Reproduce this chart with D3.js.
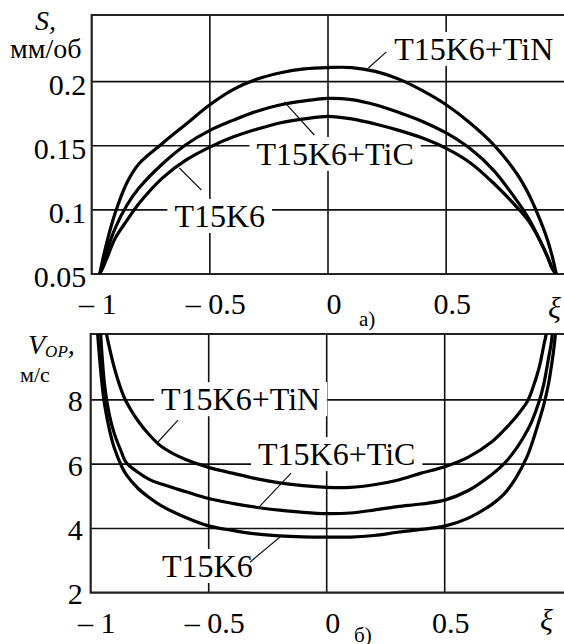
<!DOCTYPE html>
<html>
<head>
<meta charset="utf-8">
<script src="https://cdn.jsdelivr.net/npm/d3@7"></script>
</head>
<body style="margin:0; background:#fff">
<script>
// common x axis (relative position xi)
var xTicks = [-1, -0.5, 0, 0.5]
var xLabels = ["\u2013 1", "\u2013 0.5", "0", "0.5"]

// a) feed S, mm/rev
var xiA = [-0.966, -0.95, -0.93, -0.9, -0.85, -0.8, -0.7, -0.6, -0.5, -0.4, -0.3, -0.2, -0.1, 0,
           0.1, 0.2, 0.3, 0.4, 0.5, 0.6, 0.7, 0.8, 0.85, 0.9, 0.93, 0.95, 0.966]
var sTiN   = [0.05, 0.064, 0.079, 0.098, 0.1215, 0.136, 0.152, 0.167, 0.182, 0.194, 0.202, 0.207, 0.210, 0.211,
              0.211, 0.208, 0.202, 0.193, 0.182, 0.168, 0.151, 0.128, 0.112, 0.091, 0.076, 0.063, 0.05]
var sTiC   = [0.05, 0.059, 0.071, 0.086, 0.104, 0.117, 0.136, 0.151, 0.162, 0.170, 0.177, 0.182, 0.185, 0.187,
              0.186, 0.182, 0.176, 0.169, 0.160, 0.148, 0.131, 0.107, 0.093, 0.075, 0.063, 0.054, 0.05]
var sT15K6 = [0.05, 0.056, 0.065, 0.078, 0.092, 0.105, 0.125, 0.139, 0.149, 0.157, 0.163, 0.168, 0.171, 0.173,
              0.171, 0.167, 0.162, 0.156, 0.148, 0.137, 0.121, 0.102, 0.091, 0.075, 0.063, 0.054, 0.05]
var yTicksA = [0.05, 0.1, 0.15, 0.2]
var yLabelsA = ["0.05", "0.1", "0.15", "0.2"]

// б) speed V_OP, m/s
var xiB = [-0.98, -0.97, -0.96, -0.95, -0.94, -0.92, -0.9, -0.87, -0.85, -0.8, -0.75, -0.7, -0.6, -0.5, -0.4,
           -0.3, -0.2, -0.1, 0, 0.1, 0.2, 0.3, 0.4, 0.5, 0.6, 0.7, 0.75, 0.8, 0.85, 0.87, 0.9, 0.92, 0.94,
           0.95, 0.96, 0.97, 0.98]
var vTiN   = [13.5, 12.0, 11.3, 10.7, 10.3, 9.6, 9.0, 8.3, 7.95, 7.35, 6.9, 6.55, 6.15, 5.9, 5.72,
              5.55, 5.42, 5.33, 5.28, 5.28, 5.36, 5.5, 5.72, 5.92, 6.22, 6.7, 7.05, 7.45, 7.95, 8.3, 9.0, 9.7, 10.4,
              10.9, 11.5, 12.2, 13.2]
var vTiC   = [13.0, 11.6, 10.3, 9.2, 8.4, 7.5, 6.95, 6.38, 6.05, 5.75, 5.52, 5.38, 5.15, 4.93, 4.78,
              4.66, 4.57, 4.5, 4.46, 4.48, 4.57, 4.68, 4.76, 4.88, 5.18, 5.68, 6.0, 6.45, 7.05, 7.35, 7.95, 8.5, 9.3,
              9.7, 10.3, 11.0, 12.0]
var vT15K6 = [11.2, 10.0, 9.1, 8.35, 7.8, 7.05, 6.5, 5.95, 5.68, 5.25, 4.95, 4.7, 4.35, 4.08, 3.94,
              3.83, 3.77, 3.74, 3.73, 3.73, 3.78, 3.88, 3.97, 4.07, 4.32, 4.75, 5.06, 5.55, 6.25, 6.65, 7.35, 7.85, 8.5,
              8.95, 9.45, 10.1, 11.2]
var yTicksB = [2, 4, 6, 8]
var yLabelsB = ["2", "4", "6", "8"]

// curve labels: text anchor and leader line, in data units
var notesA = [
  {text: "T15K6+TiN", at: [0.28, 0.217], lead: [[0.247, 0.2232], [0.171, 0.2107]]},
  {text: "T15K6+TiC", at: [-0.303, 0.135], lead: [[-0.185, 0.1842], [-0.058, 0.1584]]},
  {text: "T15K6", at: [-0.65, 0.0867], lead: [[-0.629, 0.1327], [-0.536, 0.1155]]}
]
var notesB = [
  {text: "T15K6+TiN", at: [-0.702, 7.68], lead: [[-0.63, 7.37], [-0.715, 6.69]]},
  {text: "T15K6+TiC", at: [-0.291, 5.97], lead: [[-0.151, 5.72], [-0.291, 4.63]]},
  {text: "T15K6", at: [-0.698, 2.49], lead: [[-0.325, 2.95], [-0.189, 3.79]]}
]

var FACE = "'Times New Roman', 'Liberation Serif'"
var W = 564, H = 644
var svg = d3.select("body").append("svg")
  .attr("width", W).attr("height", H)
svg.append("rect").attr("width", W).attr("height", H).attr("fill", "#fff")

// every text in the serif face, size in px
function label(sel, size) {
  return sel.append("text")
    .attr("font-family", "Times New Roman, Liberation Serif")
    .style("font-family", FACE)
    .style("font-size", size + "px")
    .style("font-weight", "normal")
}

function panel(opt) {
  var x = d3.scaleLinear().domain([-1, 1]).range(opt.xr)
  var y = d3.scaleLinear().domain(opt.yd).range(opt.yr)
  var x0 = opt.xr[0], yb = opt.yr[0], yt = opt.yr[1]

  var g = svg.append("g")
  var gGrid = g.append("g"), gBox = g.append("g"), gLines = g.append("g"), gText = g.append("g")

  // grid
  gGrid.selectAll(".vg").data(xTicks.slice(1)).enter().append("line")
    .attr("x1", d => x(d)).attr("x2", d => x(d)).attr("y1", yt).attr("y2", yb)
    .attr("stroke", "#111").attr("stroke-width", 1.6)
  gGrid.selectAll(".hg").data(opt.yTicks.slice(1)).enter().append("line")
    .attr("x1", x0).attr("x2", W).attr("y1", d => y(d)).attr("y2", d => y(d))
    .attr("stroke", "#111").attr("stroke-width", 1.6)
  // frame (right side runs off the picture)
  gGrid.append("path")
    .attr("d", "M" + W + "," + yt + "H" + x0 + "V" + yb + "H" + W)
    .attr("fill", "none").attr("stroke", "#222").attr("stroke-width", 2.2)

  // curves
  g.append("clipPath").attr("id", "clip" + opt.id)
    .append("rect").attr("x", x0).attr("y", yt).attr("width", W - x0).attr("height", yb - yt)
  var line = d3.line()
    .x(function (d, i) { return x(opt.xs[i]) })
    .y(function (d) { return y(d) })
    .curve(d3.curveCatmullRom.alpha(0.5))
  gLines.attr("clip-path", "url(#clip" + opt.id + ")")
    .selectAll("path").data(opt.series).enter().append("path")
    .attr("d", line).attr("fill", "none").attr("stroke", "#000")
    .attr("stroke-width", 3.2).attr("stroke-linejoin", "round")

  // tick labels
  opt.yTicks.forEach(function (v, i) {
    label(gText, 30).attr("x", x0 - opt.yPad).attr("y", y(v) + opt.yDy)
      .attr("text-anchor", "end").text(opt.yLabels[i])
  })
  xTicks.forEach(function (v, i) {
    label(gText, 30).attr("x", x(v) + 6).attr("y", opt.xBase)
      .attr("text-anchor", "middle").text(xLabels[i])
  })

  label(gText, 30).attr("x", opt.xiPos[0]).attr("y", opt.xiPos[1])
    .style("font-style", "italic").text("\u03BE")
  label(gText, 21).attr("x", opt.tagPos[0]).attr("y", opt.tagPos[1]).text(opt.tag)

  // curve labels with white boxes and leader lines
  opt.notes.forEach(function (n) {
    var t = label(gText, 32)
      .attr("x", x(n.at[0])).attr("y", y(n.at[1]))
      .text(n.text)
    var b = t.node().getBBox()
    gBox.append("rect").attr("x", b.x - 7).attr("y", b.y + 1)
      .attr("width", b.width + 14).attr("height", b.height - 2).attr("fill", "#fff")
    gText.append("line")
      .attr("x1", x(n.lead[0][0])).attr("y1", y(n.lead[0][1]))
      .attr("x2", x(n.lead[1][0])).attr("y2", y(n.lead[1][1]))
      .attr("stroke", "#111").attr("stroke-width", 1.2)
  })
  return g
}

var ga = panel({
  id: "a", xr: [91.7, 564.3], yd: [0.05, 0.252], yr: [274, 15],
  xs: xiA, series: [sTiN, sTiC, sT15K6],
  yTicks: yTicksA, yLabels: yLabelsA, yPad: 5.5, yDy: 13,
  xBase: 314, xiPos: [548, 318], tag: "а)", tagPos: [359, 326], notes: notesA
})
label(ga, 28).attr("x", 35).attr("y", 30).style("font-style", "italic").text("S,")
label(ga, 28).attr("x", 10).attr("y", 58).text("мм/об")

var gb = panel({
  id: "b", xr: [90.7, 562.7], yd: [2, 10.05], yr: [592.7, 334],
  xs: xiB, series: [vTiN, vTiC, vT15K6],
  yTicks: yTicksB, yLabels: yLabelsB, yPad: 8, yDy: 11.5,
  xBase: 633, xiPos: [540, 630], tag: "б)", tagPos: [354, 642], notes: notesB
})
var vt = label(gb, 28).attr("x", 28).attr("y", 354).style("font-style", "italic")
vt.append("tspan").text("V")
vt.append("tspan").style("font-size", "17px").attr("dy", 3).text("OP")
vt.append("tspan").attr("dy", -3).text(",")
label(gb, 22).attr("x", 20).attr("y", 382).text("м/с")
</script>
</body>
</html>
